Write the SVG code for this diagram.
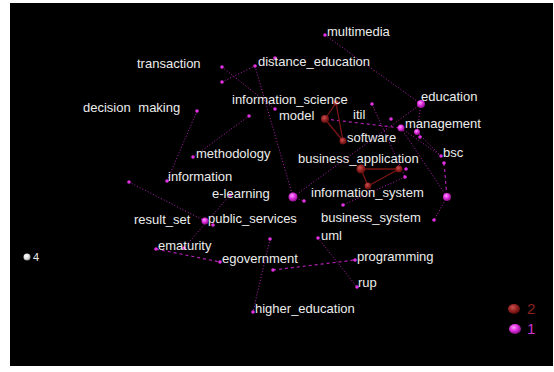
<svg xmlns="http://www.w3.org/2000/svg" width="554" height="372" viewBox="0 0 554 372">
<defs>
<radialGradient id="gm" cx="40%" cy="35%" r="65%"><stop offset="0" stop-color="#ff9cff"/><stop offset="0.5" stop-color="#e030e0"/><stop offset="1" stop-color="#8a108a"/></radialGradient>
<radialGradient id="gr" cx="40%" cy="35%" r="65%"><stop offset="0" stop-color="#c85050"/><stop offset="0.55" stop-color="#952222"/><stop offset="1" stop-color="#5a0c0c"/></radialGradient>
<radialGradient id="gw" cx="40%" cy="35%" r="65%"><stop offset="0" stop-color="#ffffff"/><stop offset="0.6" stop-color="#e0e0e0"/><stop offset="1" stop-color="#909090"/></radialGradient>
<style>
.t{font-family:"Liberation Sans",Arial,sans-serif;font-size:13px;fill:#ececec}
.d{fill:#e030e0}
.b{fill:url(#gm)}
.r{fill:url(#gr)}
.e{stroke:#b020b0;stroke-width:1;stroke-dasharray:1 2;fill:none}
.ed{stroke:#b020b0;stroke-width:1.2;stroke-dasharray:3 3;fill:none}
.er{stroke:#7a1616;stroke-width:1.3;fill:none}
</style>
</defs>
<rect x="0" y="0" width="554" height="372" fill="#ffffff"/>
<rect x="10" y="3" width="543" height="363" fill="#000000"/>
<g id="connectors">
<line class="e" x1="222" y1="67" x2="275" y2="109"/>
<line class="e" x1="222" y1="82" x2="255" y2="66"/>
<line class="e" x1="255" y1="66" x2="293" y2="197"/>
<line class="e" x1="197" y1="111" x2="167" y2="181"/>
<line class="e" x1="249" y1="116" x2="193" y2="157"/>
<line class="e" x1="129" y1="182" x2="205" y2="221"/>
<line class="e" x1="230" y1="195" x2="184" y2="248"/>
<line class="ed" x1="156" y1="249" x2="220" y2="262"/>
<line class="e" x1="270" y1="239" x2="253" y2="312"/>
<line class="ed" x1="273" y1="270" x2="355" y2="260"/>
<line class="e" x1="318" y1="238" x2="357" y2="287"/>
<line class="e" x1="325" y1="35" x2="421" y2="104"/>
<line class="e" x1="421" y1="104" x2="293" y2="197"/>
<line class="e" x1="293" y1="197" x2="304" y2="201"/>
<line class="e" x1="421" y1="104" x2="417" y2="132"/>
<line class="ed" x1="325" y1="119" x2="401" y2="128"/>
<line class="e" x1="372" y1="104" x2="405" y2="177"/>
<line class="e" x1="405" y1="177" x2="343" y2="205"/>
<line class="e" x1="401" y1="128" x2="441" y2="156"/>
<line class="e" x1="417" y1="132" x2="441" y2="156"/>
<line class="e" x1="401" y1="128" x2="447" y2="197"/>
<line class="ed" x1="444" y1="163" x2="447" y2="197"/>
<line class="e" x1="447" y1="197" x2="434" y2="220"/>
<line class="er" x1="325" y1="119" x2="336" y2="103"/>
<line class="er" x1="336" y1="103" x2="343" y2="141"/>
<line class="er" x1="325" y1="119" x2="343" y2="141"/>
<line class="er" x1="361" y1="169" x2="399" y2="169"/>
<line class="er" x1="361" y1="169" x2="368" y2="186"/>
<line class="er" x1="399" y1="169" x2="368" y2="186"/>
</g>
<g id="dots">
<circle class="d" cx="222" cy="67" r="1.8"/>
<circle class="d" cx="222" cy="82" r="1.8"/>
<circle class="d" cx="275" cy="58" r="1.8"/>
<circle class="d" cx="275" cy="109" r="1.8"/>
<circle class="d" cx="249" cy="116" r="1.8"/>
<circle class="d" cx="129" cy="182" r="1.8"/>
<circle class="d" cx="372" cy="104" r="1.8"/>
<circle class="d" cx="391" cy="119" r="1.8"/>
<circle class="b" cx="417" cy="132" r="3"/>
<circle class="d" cx="420" cy="137" r="1.8"/>
<circle class="d" cx="444" cy="163" r="1.8"/>
<circle class="d" cx="406" cy="169" r="1.8"/>
<circle class="d" cx="405" cy="177" r="1.8"/>
<circle class="d" cx="343" cy="205" r="1.8"/>
<circle class="d" cx="304" cy="201" r="1.8"/>
<circle class="b" cx="447" cy="197" r="4"/>
<circle class="d" cx="434" cy="220" r="1.8"/>
<circle class="d" cx="230" cy="195" r="1.8"/>
<circle class="d" cx="213" cy="225" r="1.8"/>
<circle class="d" cx="184" cy="248" r="1.8"/>
<circle class="d" cx="270" cy="239" r="1.8"/>
<circle class="d" cx="273" cy="270" r="1.8"/>
<circle class="r" cx="336" cy="103" r="2.8"/>
<circle class="r" cx="361" cy="169" r="4.5"/>
<circle class="r" cx="399" cy="169" r="3.5"/>
<circle class="r" cx="368" cy="186" r="3.5"/>
</g>
<g id="transaction"><text class="t" x="137" y="68">transaction</text></g>
<g id="decision_making"><circle class="d" cx="197" cy="111" r="1.8"/><text class="t" x="83" y="112" word-spacing="4">decision making</text></g>
<g id="methodology"><circle class="d" cx="193" cy="157" r="1.8"/><text class="t" x="196" y="158">methodology</text></g>
<g id="information"><circle class="d" cx="167" cy="181" r="1.8"/><text class="t" x="168" y="181">information</text></g>
<g id="multimedia"><circle class="d" cx="325" cy="35" r="1.8"/><text class="t" x="327" y="36">multimedia</text></g>
<g id="distance_education"><circle class="d" cx="255" cy="66" r="1.8"/><text class="t" x="258" y="66">distance_education</text></g>
<g id="information_science"><text class="t" x="232" y="104">information_science</text></g>
<g id="education"><circle class="b" cx="421" cy="104" r="4"/><text class="t" x="421" y="101">education</text></g>
<g id="model"><circle class="r" cx="325" cy="119" r="4"/><text class="t" x="279" y="120">model</text></g>
<g id="itil"><text class="t" x="353" y="119">itil</text></g>
<g id="management"><circle class="b" cx="401" cy="128" r="3.5"/><text class="t" x="405" y="128">management</text></g>
<g id="software"><circle class="r" cx="343" cy="141" r="3.5"/><text class="t" x="347" y="142">software</text></g>
<g id="bsc"><circle class="d" cx="441" cy="156" r="1.8"/><text class="t" x="443" y="157">bsc</text></g>
<g id="business_application"><text class="t" x="298" y="163">business_application</text></g>
<g id="e-learning"><circle class="b" cx="293" cy="197" r="4.5"/><text class="t" x="212" y="198">e-learning</text></g>
<g id="information_system"><text class="t" x="311" y="197">information_system</text></g>
<g id="public_services"><circle class="b" cx="205" cy="221" r="3.5"/><text class="t" x="208" y="223">public_services</text></g>
<g id="result_set"><text class="t" x="134" y="224">result_set</text></g>
<g id="business_system"><text class="t" x="321" y="222">business_system</text></g>
<g id="uml"><circle class="d" cx="318" cy="238" r="1.8"/><text class="t" x="321" y="240">uml</text></g>
<g id="ematurity"><circle class="d" cx="156" cy="249" r="1.8"/><text class="t" x="158" y="250">ematurity</text></g>
<g id="egovernment"><circle class="d" cx="220" cy="262" r="1.8"/><text class="t" x="222" y="263">egovernment</text></g>
<g id="programming"><circle class="d" cx="355" cy="260" r="1.8"/><text class="t" x="357" y="261">programming</text></g>
<g id="rup"><circle class="d" cx="357" cy="287" r="1.8"/><text class="t" x="358" y="287">rup</text></g>
<g id="higher_education"><circle class="d" cx="253" cy="312" r="1.8"/><text class="t" x="255" y="313">higher_education</text></g>
<g id="legend">
<circle cx="27" cy="257" r="3.5" fill="url(#gw)"/>
<text x="33" y="261" font-family="Liberation Sans, Arial, sans-serif" font-size="11" fill="#ececec">4</text>
<ellipse cx="514" cy="309" rx="6" ry="5" fill="url(#gr)"/>
<text x="527" y="314" font-family="Liberation Sans, Arial, sans-serif" font-size="15" fill="#8b2020">2</text>
<ellipse cx="515" cy="329" rx="6" ry="5" fill="url(#gm)"/>
<text x="527" y="334" font-family="Liberation Sans, Arial, sans-serif" font-size="15" fill="#d030d0">1</text>
</g>
</svg>
